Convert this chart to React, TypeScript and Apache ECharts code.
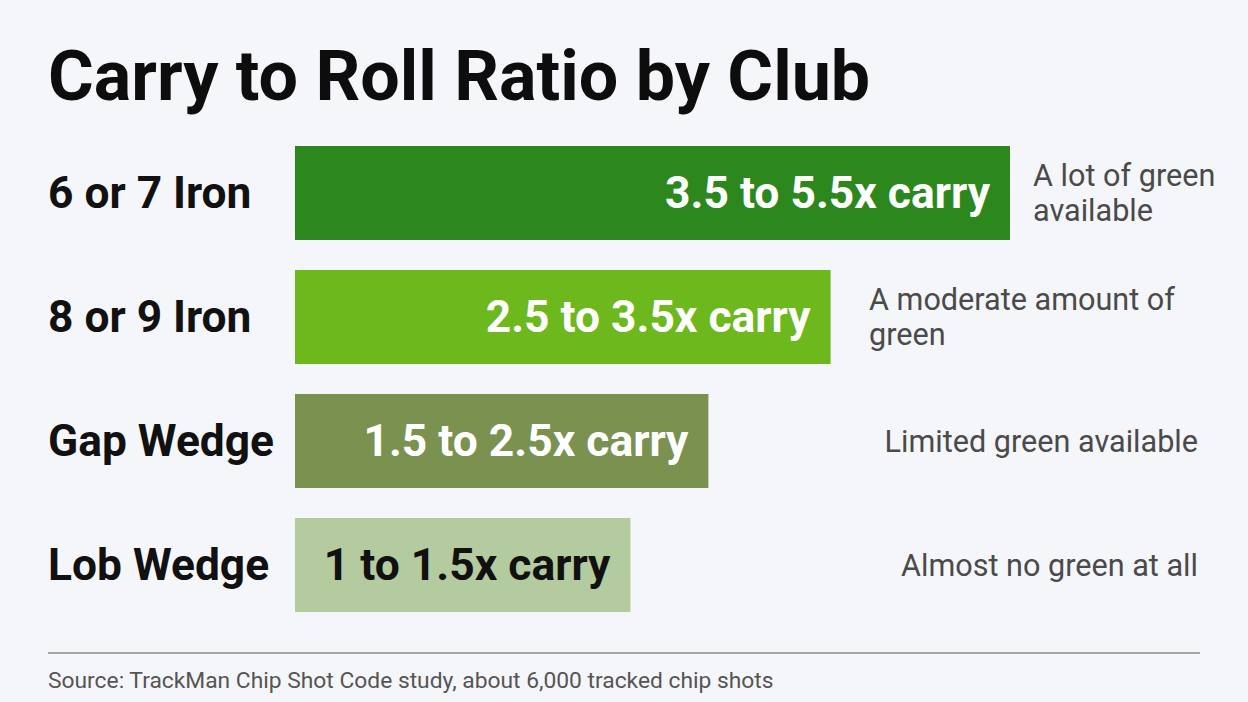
import React, { useEffect, useRef } from "react";
import * as echarts from "echarts";

// Clubs, top to bottom
const clubs = ["6 or 7 Iron", "8 or 9 Iron", "Gap Wedge", "Lob Wedge"];
// Bar lengths (relative carry-to-roll scale)
const barValues = [5.5, 4.12, 3.18, 2.58];
// Ratio ranges printed inside each bar
const rangeLabels = ["3.5 to 5.5x carry", "2.5 to 3.5x carry", "1.5 to 2.5x carry", "1 to 1.5x carry"];
// Green available for each club
const greenNotes = ["A lot of green\navailable", "A moderate amount of\ngreen", "Limited green available", "Almost no green at all"];
const barColors = ["#2c881d", "#6cb81d", "#7a9150", "#b4cb9f"];
const labelColors = ["#ffffff", "#ffffff", "#ffffff", "#111111"];

const FONT = "Roboto, 'Noto Sans', sans-serif";

export default function App() {
  const ref = useRef<HTMLDivElement>(null);

  useEffect(() => {
    if (!ref.current) return;
    const chart = echarts.init(ref.current, null, { renderer: "svg" });
    chart.setOption({
      animation: false,
      backgroundColor: "#f5f6f9",
      grid: { left: 295, top: 131, width: 780, height: 496, containLabel: false },
      xAxis: {
        type: "value",
        min: 0,
        max: 6,
        show: false,
      },
      yAxis: {
        type: "category",
        data: clubs,
        inverse: true,
        axisLine: { show: false },
        axisTick: { show: false },
        splitLine: { show: false },
        axisLabel: {
          align: "left",
          margin: 247,
          fontFamily: FONT,
          fontWeight: "bold",
          fontSize: 44.3,
          color: "#111111",
        },
      },
      series: [
        {
          type: "bar",
          barCategoryGap: "24%",
          data: barValues.map((v, i) => ({
            value: v,
            itemStyle: { color: barColors[i] },
            label: { color: labelColors[i] },
          })),
          label: {
            show: true,
            position: "insideRight",
            distance: 20,
            fontFamily: FONT,
            fontWeight: "bold",
            fontSize: 44.4,
            formatter: (p: any) => rangeLabels[p.dataIndex],
          },
        },
      ],
    });

    const ys = clubs.map((c) => chart.convertToPixel({ yAxisIndex: 0 }, c) as number);
    const noteX = [1033, 869, 1198, 1198];
    const noteAlign = ["left", "left", "right", "right"];

    chart.setOption({
      graphic: [
        {
          type: "text",
          left: 48,
          top: 41,
          style: {
            text: "Carry to Roll Ratio by Club",
            fontFamily: FONT,
            fontWeight: "bold",
            fontSize: 70,
            fill: "#0d0d0d",
          },
        },
        ...greenNotes.map((t, i) => ({
          type: "text",
          x: noteX[i],
          y: ys[i],
          style: {
            text: t,
            fontFamily: FONT,
            fontSize: 30.6,
            lineHeight: 35,
            fill: "#4a4a4a",
            align: noteAlign[i],
            verticalAlign: "middle",
          },
        })),
        {
          type: "line",
          shape: { x1: 48, y1: 653, x2: 1200, y2: 653 },
          style: { stroke: "#8a8a8a", lineWidth: 1.5 },
        },
        {
          type: "text",
          x: 48,
          y: 680,
          style: {
            text: "Source: TrackMan Chip Shot Code study, about 6,000 tracked chip shots",
            fontFamily: FONT,
            fontSize: 22.8,
            fill: "#555555",
            verticalAlign: "middle",
          },
        },
      ],
    });

    return () => chart.dispose();
  }, []);

  return (
    <div
      ref={ref}
      style={{ position: "fixed", left: 0, top: 0, width: 1248, height: 702 }}
    />
  );
}
